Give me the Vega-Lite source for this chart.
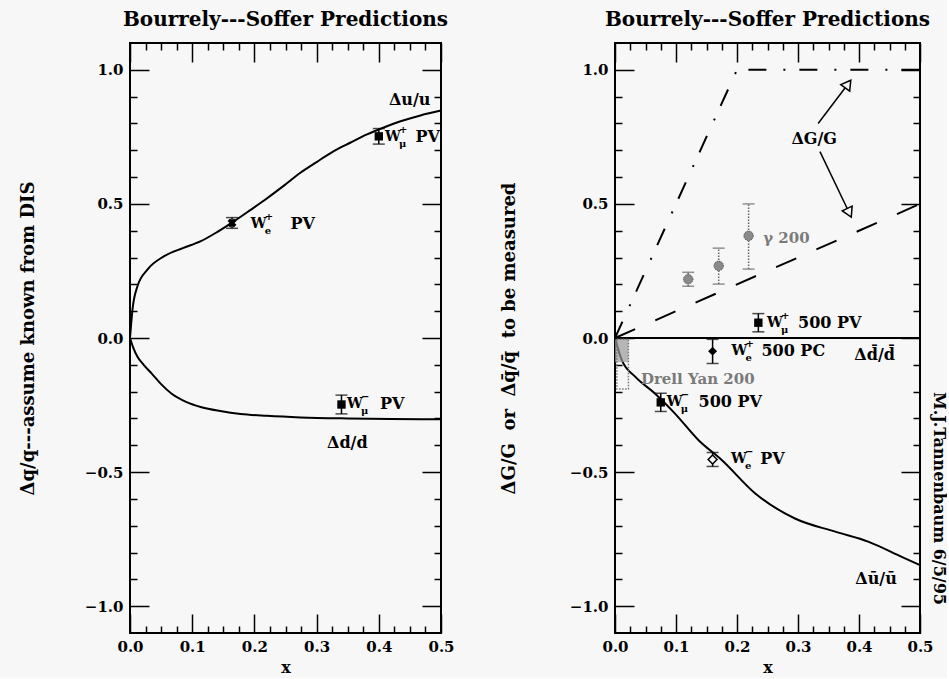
{
  "$schema": "https://vega.github.io/schema/vega-lite/v6.json",
  "background": "#f7f7f7",
  "padding": {"left": 18, "top": 9, "right": 0, "bottom": 2},
  "spacing": 43,
  "config": {
    "view": {"stroke": "black", "strokeWidth": 2},
    "font": "DejaVu Serif",
    "title": {"font": "DejaVu Serif", "fontSize": 20, "fontWeight": "bold", "color": "black", "offset": 12},
    "axis": {
      "labelFont": "DejaVu Serif", "labelFontSize": 15, "labelFontWeight": "bold", "labelColor": "black",
      "titleFont": "DejaVu Serif", "titleFontSize": 18, "titleFontWeight": "bold", "titleColor": "black",
      "domain": false, "grid": false, "tickColor": "black", "tickWidth": 1.5,
      "labelOverlap": false, "labelFlush": false
    },
    "text": {"font": "DejaVu Serif", "fontWeight": "bold", "fontSize": 16, "color": "black"}
  },
  "datasets": {
    "curves": [
      {"panel": "L", "series": "u", "x": 0, "y": 0},
      {"panel": "L", "series": "u", "x": 0.004, "y": 0.106},
      {"panel": "L", "series": "u", "x": 0.012, "y": 0.193},
      {"panel": "L", "series": "u", "x": 0.028, "y": 0.255},
      {"panel": "L", "series": "u", "x": 0.055, "y": 0.305},
      {"panel": "L", "series": "u", "x": 0.085, "y": 0.335},
      {"panel": "L", "series": "u", "x": 0.113, "y": 0.36},
      {"panel": "L", "series": "u", "x": 0.14, "y": 0.395},
      {"panel": "L", "series": "u", "x": 0.167, "y": 0.435},
      {"panel": "L", "series": "u", "x": 0.194, "y": 0.478},
      {"panel": "L", "series": "u", "x": 0.221, "y": 0.522},
      {"panel": "L", "series": "u", "x": 0.248, "y": 0.569},
      {"panel": "L", "series": "u", "x": 0.274, "y": 0.616},
      {"panel": "L", "series": "u", "x": 0.3, "y": 0.656},
      {"panel": "L", "series": "u", "x": 0.327, "y": 0.696},
      {"panel": "L", "series": "u", "x": 0.354, "y": 0.728},
      {"panel": "L", "series": "u", "x": 0.381, "y": 0.759},
      {"panel": "L", "series": "u", "x": 0.408, "y": 0.785},
      {"panel": "L", "series": "u", "x": 0.435, "y": 0.808},
      {"panel": "L", "series": "u", "x": 0.467, "y": 0.83},
      {"panel": "L", "series": "u", "x": 0.5, "y": 0.848},
      {"panel": "L", "series": "d", "x": 0, "y": 0},
      {"panel": "L", "series": "d", "x": 0.005, "y": -0.035},
      {"panel": "L", "series": "d", "x": 0.012, "y": -0.07},
      {"panel": "L", "series": "d", "x": 0.022, "y": -0.1},
      {"panel": "L", "series": "d", "x": 0.035, "y": -0.133},
      {"panel": "L", "series": "d", "x": 0.05, "y": -0.172},
      {"panel": "L", "series": "d", "x": 0.067, "y": -0.208},
      {"panel": "L", "series": "d", "x": 0.09, "y": -0.238},
      {"panel": "L", "series": "d", "x": 0.115, "y": -0.258},
      {"panel": "L", "series": "d", "x": 0.145, "y": -0.272},
      {"panel": "L", "series": "d", "x": 0.178, "y": -0.283},
      {"panel": "L", "series": "d", "x": 0.22, "y": -0.29},
      {"panel": "L", "series": "d", "x": 0.274, "y": -0.296},
      {"panel": "L", "series": "d", "x": 0.35, "y": -0.3},
      {"panel": "L", "series": "d", "x": 0.42, "y": -0.302},
      {"panel": "L", "series": "d", "x": 0.5, "y": -0.303},
      {"panel": "R", "series": "G1", "x": 0, "y": 0},
      {"panel": "R", "series": "G1", "x": 0.2, "y": 1.0},
      {"panel": "R", "series": "G1", "x": 0.5, "y": 1.0},
      {"panel": "R", "series": "G2", "x": 0, "y": 0},
      {"panel": "R", "series": "G2", "x": 0.5, "y": 0.5},
      {"panel": "R", "series": "dbar", "x": 0, "y": 0},
      {"panel": "R", "series": "dbar", "x": 0.5, "y": 0},
      {"panel": "R", "series": "ubar", "x": 0, "y": 0},
      {"panel": "R", "series": "ubar", "x": 0.011, "y": -0.082},
      {"panel": "R", "series": "ubar", "x": 0.033, "y": -0.144},
      {"panel": "R", "series": "ubar", "x": 0.065, "y": -0.206},
      {"panel": "R", "series": "ubar", "x": 0.098, "y": -0.281},
      {"panel": "R", "series": "ubar", "x": 0.137, "y": -0.381},
      {"panel": "R", "series": "ubar", "x": 0.175, "y": -0.455},
      {"panel": "R", "series": "ubar", "x": 0.23, "y": -0.58},
      {"panel": "R", "series": "ubar", "x": 0.295, "y": -0.673},
      {"panel": "R", "series": "ubar", "x": 0.361, "y": -0.722},
      {"panel": "R", "series": "ubar", "x": 0.416, "y": -0.76},
      {"panel": "R", "series": "ubar", "x": 0.47, "y": -0.816},
      {"panel": "R", "series": "ubar", "x": 0.5, "y": -0.847}
    ],
    "points": [
      {"panel": "L", "kind": "x", "x": 0.164, "y": 0.429, "lo": 0.409, "hi": 0.449},
      {"panel": "L", "kind": "sq", "x": 0.4, "y": 0.752, "lo": 0.723, "hi": 0.781},
      {"panel": "L", "kind": "sq", "x": 0.34, "y": -0.248, "lo": -0.283, "hi": -0.213},
      {"panel": "R", "kind": "sq", "x": 0.235, "y": 0.057, "lo": 0.023, "hi": 0.091},
      {"panel": "R", "kind": "dia", "x": 0.16, "y": -0.049, "lo": -0.095, "hi": -0.005},
      {"panel": "R", "kind": "sq", "x": 0.075, "y": -0.24, "lo": -0.274, "hi": -0.206},
      {"panel": "R", "kind": "odia", "x": 0.16, "y": -0.453, "lo": -0.479, "hi": -0.427},
      {"panel": "R", "kind": "g", "x": 0.12, "y": 0.219, "lo": 0.193, "hi": 0.245},
      {"panel": "R", "kind": "g", "x": 0.17, "y": 0.269, "lo": 0.201, "hi": 0.335},
      {"panel": "R", "kind": "g", "x": 0.219, "y": 0.381, "lo": 0.257, "hi": 0.5}
    ],
    "boxes": [
      {"kind": "fill", "x": 0, "x2": 0.022, "y": -0.005, "y2": -0.09},
      {"kind": "outline", "x": 0.003, "x2": 0.022, "y": -0.005, "y2": -0.19}
    ],
    "arrows": [
      {"id": 1, "x": 0.333, "y": 0.8, "x2": 0.382, "y2": 0.947},
      {"id": 2, "x": 0.336, "y": 0.695, "x2": 0.384, "y2": 0.467}
    ],
    "plain": [
      {"panel": "L", "grey": false, "text": "Δu/u", "x": 0.483, "y": 0.889},
      {"panel": "L", "grey": false, "text": "Δd/d", "x": 0.382, "y": -0.39},
      {"panel": "R", "grey": false, "text": "ΔG/G", "x": 0.364, "y": 0.743},
      {"panel": "R", "grey": false, "text": "Δd\u0304/d\u0304", "x": 0.459, "y": -0.063},
      {"panel": "R", "grey": false, "text": "Δū/ū", "x": 0.462, "y": -0.9},
      {"panel": "R", "grey": true, "text": "γ 200", "x": 0.319, "y": 0.373},
      {"panel": "R", "grey": true, "text": "Drell Yan 200", "x": 0.229, "y": -0.153}
    ],
    "wlabels": [
      {"panel": "L", "x": 0.41, "xr": 0.459, "y": 0.749, "sup": "+", "sub": "μ", "rest": "PV"},
      {"panel": "L", "x": 0.194, "xr": 0.258, "y": 0.426, "sup": "+", "sub": "e", "rest": "PV"},
      {"panel": "L", "x": 0.349, "xr": 0.402, "y": -0.245, "sup": "−", "sub": "μ", "rest": "PV"},
      {"panel": "R", "x": 0.249, "xr": 0.3, "y": 0.057, "sup": "+", "sub": "μ", "rest": "500 PV"},
      {"panel": "R", "x": 0.191, "xr": 0.24, "y": -0.049, "sup": "+", "sub": "e", "rest": "500 PC"},
      {"panel": "R", "x": 0.085, "xr": 0.137, "y": -0.24, "sup": "−", "sub": "μ", "rest": "500 PV"},
      {"panel": "R", "x": 0.19, "xr": 0.238, "y": -0.453, "sup": "−", "sub": "e", "rest": "PV"}
    ]
  },
  "hconcat": [
    {
      "title": "Bourrely---Soffer Predictions",
      "width": 311,
      "height": 590,
      "resolve": {"axis": {"x": "independent", "y": "independent"}},
      "layer": [
        {
          "data": {"name": "curves"},
          "transform": [{"filter": "datum.panel == 'L'"}],
          "mark": {"type": "line", "color": "black", "strokeWidth": 2, "interpolate": "monotone"},
          "encoding": {
            "x": {"field": "x", "type": "quantitative", "scale": {"domain": [0, 0.5], "nice": false},
              "axis": {"orient": "bottom", "title": "x", "titleFontSize": 16, "titleY": 26, "titleBaseline": "top",
                "values": [0,0.025,0.05,0.075,0.1,0.125,0.15,0.175,0.2,0.225,0.25,0.275,0.3,0.325,0.35,0.375,0.4,0.425,0.45,0.475,0.5],
                "tickSize": {"condition": {"test": "abs(datum.value*10 - round(datum.value*10)) < 0.001", "value": -19}, "value": -7},
                "labelPadding": 25,
                "labelExpr": "abs(datum.value*10 - round(datum.value*10)) < 0.001 ? format(datum.value, '.1f') : ''"}},
            "y": {"field": "y", "type": "quantitative", "scale": {"domain": [-1.1, 1.1], "nice": false},
              "axis": {"orient": "left", "title": "Δq/q---assume known from DIS", "titleX": -102, "titleBaseline": "middle",
                "values": [-1,-0.9,-0.8,-0.7,-0.6,-0.5,-0.4,-0.3,-0.2,-0.1,0,0.1,0.2,0.3,0.4,0.5,0.6,0.7,0.8,0.9,1],
                "tickSize": {"condition": {"test": "abs(datum.value*2 - round(datum.value*2)) < 0.001", "value": -19}, "value": -7},
                "labelPadding": 26,
                "labelExpr": "abs(datum.value*2 - round(datum.value*2)) < 0.001 ? format(datum.value, '.1f') : ''"}},
            "detail": {"field": "series"}
          }
        },
        {
          "data": {"name": "points"},
          "transform": [{"filter": "datum.panel == 'L'"}],
          "mark": {"type": "rule", "color": "black", "strokeWidth": 1.5},
          "encoding": {
            "x": {"field": "x", "type": "quantitative",
              "axis": {"orient": "top", "title": null, "labels": false,
                "values": [0,0.025,0.05,0.075,0.1,0.125,0.15,0.175,0.2,0.225,0.25,0.275,0.3,0.325,0.35,0.375,0.4,0.425,0.45,0.475,0.5],
                "tickSize": {"condition": {"test": "abs(datum.value*10 - round(datum.value*10)) < 0.001", "value": -19}, "value": -7}}},
            "y": {"field": "lo", "type": "quantitative",
              "axis": {"orient": "right", "title": null, "labels": false,
                "values": [-1,-0.9,-0.8,-0.7,-0.6,-0.5,-0.4,-0.3,-0.2,-0.1,0,0.1,0.2,0.3,0.4,0.5,0.6,0.7,0.8,0.9,1],
                "tickSize": {"condition": {"test": "abs(datum.value*2 - round(datum.value*2)) < 0.001", "value": -19}, "value": -7}}},
            "y2": {"field": "hi"}
          }
        },
        {
          "data": {"name": "points"},
          "transform": [{"filter": "datum.panel == 'L'"}, {"fold": ["lo", "hi"], "as": ["end", "v"]}],
          "mark": {"type": "tick", "orient": "horizontal", "color": "black", "size": 12, "thickness": 1.5},
          "encoding": {
            "x": {"field": "x", "type": "quantitative", "axis": null},
            "y": {"field": "v", "type": "quantitative", "axis": null}
          }
        },
        {
          "data": {"name": "points"},
          "transform": [{"filter": "datum.panel == 'L' && datum.kind == 'sq'"}],
          "mark": {"type": "point", "shape": "square", "filled": true, "color": "black", "size": 70, "opacity": 1},
          "encoding": {
            "x": {"field": "x", "type": "quantitative", "axis": null},
            "y": {"field": "y", "type": "quantitative", "axis": null}
          }
        },
        {
          "data": {"name": "points"},
          "transform": [{"filter": "datum.panel == 'L' && datum.kind == 'x'"}],
          "mark": {"type": "point", "shape": "cross", "angle": 45, "filled": true, "color": "black", "size": 80, "opacity": 1},
          "encoding": {
            "x": {"field": "x", "type": "quantitative", "axis": null},
            "y": {"field": "y", "type": "quantitative", "axis": null}
          }
        },
        {
          "data": {"name": "plain"},
          "transform": [{"filter": "datum.panel == 'L'"}],
          "mark": {"type": "text", "align": "right", "baseline": "middle"},
          "encoding": {
            "x": {"field": "x", "type": "quantitative", "axis": null},
            "y": {"field": "y", "type": "quantitative", "axis": null},
            "text": {"field": "text"}
          }
        },
        {
          "data": {"name": "wlabels"},
          "transform": [{"filter": "datum.panel == 'L'"}],
          "mark": {"type": "text", "align": "left", "baseline": "middle", "text": "W", "fontSize": 14},
          "encoding": {
            "x": {"field": "x", "type": "quantitative", "axis": null},
            "y": {"field": "y", "type": "quantitative", "axis": null}
          }
        },
        {
          "data": {"name": "wlabels"},
          "transform": [{"filter": "datum.panel == 'L'"}],
          "mark": {"type": "text", "align": "left", "baseline": "middle", "fontSize": 10, "dx": 14, "dy": -7},
          "encoding": {
            "x": {"field": "x", "type": "quantitative", "axis": null},
            "y": {"field": "y", "type": "quantitative", "axis": null},
            "text": {"field": "sup"}
          }
        },
        {
          "data": {"name": "wlabels"},
          "transform": [{"filter": "datum.panel == 'L'"}],
          "mark": {"type": "text", "align": "left", "baseline": "middle", "fontSize": 10, "dx": 14, "dy": 7},
          "encoding": {
            "x": {"field": "x", "type": "quantitative", "axis": null},
            "y": {"field": "y", "type": "quantitative", "axis": null},
            "text": {"field": "sub"}
          }
        },
        {
          "data": {"name": "wlabels"},
          "transform": [{"filter": "datum.panel == 'L'"}],
          "mark": {"type": "text", "align": "left", "baseline": "middle"},
          "encoding": {
            "x": {"field": "xr", "type": "quantitative", "axis": null},
            "y": {"field": "y", "type": "quantitative", "axis": null},
            "text": {"field": "rest"}
          }
        }
      ]
    },
    {
      "title": "Bourrely---Soffer Predictions",
      "width": 305,
      "height": 590,
      "resolve": {"axis": {"x": "independent", "y": "independent"}},
      "layer": [
        {
          "data": {"name": "curves"},
          "transform": [{"filter": "datum.series == 'dbar'"}],
          "mark": {"type": "line", "color": "black", "strokeWidth": 2},
          "encoding": {
            "x": {"field": "x", "type": "quantitative", "scale": {"domain": [0, 0.5], "nice": false},
              "axis": {"orient": "bottom", "title": "x", "titleFontSize": 16, "titleY": 26, "titleBaseline": "top",
                "values": [0,0.025,0.05,0.075,0.1,0.125,0.15,0.175,0.2,0.225,0.25,0.275,0.3,0.325,0.35,0.375,0.4,0.425,0.45,0.475,0.5],
                "tickSize": {"condition": {"test": "abs(datum.value*10 - round(datum.value*10)) < 0.001", "value": -19}, "value": -7},
                "labelPadding": 25,
                "labelExpr": "abs(datum.value*10 - round(datum.value*10)) < 0.001 ? format(datum.value, '.1f') : ''"}},
            "y": {"field": "y", "type": "quantitative", "scale": {"domain": [-1.1, 1.1], "nice": false},
              "axis": {"orient": "left", "title": "ΔG/G\u00a0\u00a0or\u00a0\u00a0Δq\u0304/q\u0304\u00a0\u00a0to be measured", "titleX": -106, "titleBaseline": "middle",
                "values": [-1,-0.9,-0.8,-0.7,-0.6,-0.5,-0.4,-0.3,-0.2,-0.1,0,0.1,0.2,0.3,0.4,0.5,0.6,0.7,0.8,0.9,1],
                "tickSize": {"condition": {"test": "abs(datum.value*2 - round(datum.value*2)) < 0.001", "value": -19}, "value": -7},
                "labelPadding": 26,
                "labelExpr": "abs(datum.value*2 - round(datum.value*2)) < 0.001 ? format(datum.value, '.1f') : ''"}}
          }
        },
        {
          "data": {"name": "curves"},
          "transform": [{"filter": "datum.series == 'ubar'"}],
          "mark": {"type": "line", "color": "black", "strokeWidth": 2, "interpolate": "monotone"},
          "encoding": {
            "x": {"field": "x", "type": "quantitative",
              "axis": {"orient": "top", "title": null, "labels": false,
                "values": [0,0.025,0.05,0.075,0.1,0.125,0.15,0.175,0.2,0.225,0.25,0.275,0.3,0.325,0.35,0.375,0.4,0.425,0.45,0.475,0.5],
                "tickSize": {"condition": {"test": "abs(datum.value*10 - round(datum.value*10)) < 0.001", "value": -19}, "value": -7}}},
            "y": {"field": "y", "type": "quantitative",
              "axis": {"orient": "right", "title": "M.J.Tannenbaum 6/5/95", "titleFontSize": 16, "titleAngle": 90, "titleX": 18, "titleY": 455, "titleBaseline": "middle", "titleAlign": "center", "labels": false,
                "values": [-1,-0.9,-0.8,-0.7,-0.6,-0.5,-0.4,-0.3,-0.2,-0.1,0,0.1,0.2,0.3,0.4,0.5,0.6,0.7,0.8,0.9,1],
                "tickSize": {"condition": {"test": "abs(datum.value*2 - round(datum.value*2)) < 0.001", "value": -19}, "value": -7}}}
          }
        },
        {
          "data": {"name": "curves"},
          "transform": [{"filter": "datum.series == 'G1'"}],
          "mark": {"type": "line", "color": "black", "strokeWidth": 2, "strokeDash": [18, 17, 2, 14]},
          "encoding": {
            "x": {"field": "x", "type": "quantitative", "axis": null},
            "y": {"field": "y", "type": "quantitative", "axis": null}
          }
        },
        {
          "data": {"name": "curves"},
          "transform": [{"filter": "datum.series == 'G2'"}],
          "mark": {"type": "line", "color": "black", "strokeWidth": 2, "strokeDash": [22, 22]},
          "encoding": {
            "x": {"field": "x", "type": "quantitative", "axis": null},
            "y": {"field": "y", "type": "quantitative", "axis": null}
          }
        },
        {
          "data": {"name": "boxes"},
          "transform": [{"filter": "datum.kind == 'fill'"}],
          "mark": {"type": "rect", "fill": "#9a9a9a", "opacity": 0.7},
          "encoding": {
            "x": {"field": "x", "type": "quantitative", "axis": null},
            "x2": {"field": "x2"},
            "y": {"field": "y", "type": "quantitative", "axis": null},
            "y2": {"field": "y2"}
          }
        },
        {
          "data": {"name": "boxes"},
          "transform": [{"filter": "datum.kind == 'outline'"}],
          "mark": {"type": "rect", "fill": null, "fillOpacity": 0, "stroke": "#777", "strokeWidth": 1.5, "strokeDash": [1.5, 1.5]},
          "encoding": {
            "x": {"field": "x", "type": "quantitative", "axis": null},
            "x2": {"field": "x2"},
            "y": {"field": "y", "type": "quantitative", "axis": null},
            "y2": {"field": "y2"}
          }
        },
        {
          "data": {"name": "arrows"},
          "mark": {"type": "rule", "color": "black", "strokeWidth": 1.5},
          "encoding": {
            "x": {"field": "x", "type": "quantitative", "axis": null},
            "y": {"field": "y", "type": "quantitative", "axis": null},
            "x2": {"field": "x2"},
            "y2": {"field": "y2"}
          }
        },
        {
          "data": {"name": "arrows"},
          "transform": [{"filter": "datum.id == 1"}],
          "mark": {"type": "point", "shape": "triangle-up", "angle": 36, "filled": true, "fill": "#f7f7f7", "stroke": "black", "strokeWidth": 1.5, "size": 120, "opacity": 1},
          "encoding": {
            "x": {"field": "x2", "type": "quantitative", "axis": null},
            "y": {"field": "y2", "type": "quantitative", "axis": null}
          }
        },
        {
          "data": {"name": "arrows"},
          "transform": [{"filter": "datum.id == 2"}],
          "mark": {"type": "point", "shape": "triangle-up", "angle": 154.5, "filled": true, "fill": "#f7f7f7", "stroke": "black", "strokeWidth": 1.5, "size": 120, "opacity": 1},
          "encoding": {
            "x": {"field": "x2", "type": "quantitative", "axis": null},
            "y": {"field": "y2", "type": "quantitative", "axis": null}
          }
        },
        {
          "data": {"name": "points"},
          "transform": [{"filter": "datum.panel == 'R' && datum.kind != 'g'"}],
          "mark": {"type": "rule", "color": "black", "strokeWidth": 1.5},
          "encoding": {
            "x": {"field": "x", "type": "quantitative", "axis": null},
            "y": {"field": "lo", "type": "quantitative", "axis": null},
            "y2": {"field": "hi"}
          }
        },
        {
          "data": {"name": "points"},
          "transform": [{"filter": "datum.panel == 'R' && datum.kind != 'g'"}, {"fold": ["lo", "hi"], "as": ["end", "v"]}],
          "mark": {"type": "tick", "orient": "horizontal", "color": "black", "size": 12, "thickness": 1.5},
          "encoding": {
            "x": {"field": "x", "type": "quantitative", "axis": null},
            "y": {"field": "v", "type": "quantitative", "axis": null}
          }
        },
        {
          "data": {"name": "points"},
          "transform": [{"filter": "datum.kind == 'g'"}],
          "mark": {"type": "rule", "color": "#666", "strokeWidth": 1.5, "strokeDash": [1.5, 1.5]},
          "encoding": {
            "x": {"field": "x", "type": "quantitative", "axis": null},
            "y": {"field": "lo", "type": "quantitative", "axis": null},
            "y2": {"field": "hi"}
          }
        },
        {
          "data": {"name": "points"},
          "transform": [{"filter": "datum.kind == 'g'"}, {"fold": ["lo", "hi"], "as": ["end", "v"]}],
          "mark": {"type": "tick", "orient": "horizontal", "color": "#666", "size": 12, "thickness": 1.5},
          "encoding": {
            "x": {"field": "x", "type": "quantitative", "axis": null},
            "y": {"field": "v", "type": "quantitative", "axis": null}
          }
        },
        {
          "data": {"name": "points"},
          "transform": [{"filter": "datum.kind == 'g'"}],
          "mark": {"type": "point", "shape": "circle", "filled": true, "fill": "#8a8a8a", "stroke": "#444", "strokeWidth": 1, "strokeDash": [1, 1], "size": 90, "opacity": 1},
          "encoding": {
            "x": {"field": "x", "type": "quantitative", "axis": null},
            "y": {"field": "y", "type": "quantitative", "axis": null}
          }
        },
        {
          "data": {"name": "points"},
          "transform": [{"filter": "datum.panel == 'R' && datum.kind == 'sq'"}],
          "mark": {"type": "point", "shape": "square", "filled": true, "color": "black", "size": 70, "opacity": 1},
          "encoding": {
            "x": {"field": "x", "type": "quantitative", "axis": null},
            "y": {"field": "y", "type": "quantitative", "axis": null}
          }
        },
        {
          "data": {"name": "points"},
          "transform": [{"filter": "datum.kind == 'dia'"}],
          "mark": {"type": "point", "shape": "diamond", "filled": true, "color": "black", "size": 80, "opacity": 1},
          "encoding": {
            "x": {"field": "x", "type": "quantitative", "axis": null},
            "y": {"field": "y", "type": "quantitative", "axis": null}
          }
        },
        {
          "data": {"name": "points"},
          "transform": [{"filter": "datum.kind == 'odia'"}],
          "mark": {"type": "point", "shape": "diamond", "filled": true, "fill": "#f7f7f7", "stroke": "black", "strokeWidth": 1.5, "size": 80, "opacity": 1},
          "encoding": {
            "x": {"field": "x", "type": "quantitative", "axis": null},
            "y": {"field": "y", "type": "quantitative", "axis": null}
          }
        },
        {
          "data": {"name": "plain"},
          "transform": [{"filter": "datum.panel == 'R' && !datum.grey"}],
          "mark": {"type": "text", "align": "right", "baseline": "middle"},
          "encoding": {
            "x": {"field": "x", "type": "quantitative", "axis": null},
            "y": {"field": "y", "type": "quantitative", "axis": null},
            "text": {"field": "text"}
          }
        },
        {
          "data": {"name": "plain"},
          "transform": [{"filter": "datum.panel == 'R' && datum.grey"}],
          "mark": {"type": "text", "align": "right", "baseline": "middle", "color": "#7a7a7a", "fontSize": 15},
          "encoding": {
            "x": {"field": "x", "type": "quantitative", "axis": null},
            "y": {"field": "y", "type": "quantitative", "axis": null},
            "text": {"field": "text"}
          }
        },
        {
          "data": {"name": "wlabels"},
          "transform": [{"filter": "datum.panel == 'R'"}],
          "mark": {"type": "text", "align": "left", "baseline": "middle", "text": "W", "fontSize": 14},
          "encoding": {
            "x": {"field": "x", "type": "quantitative", "axis": null},
            "y": {"field": "y", "type": "quantitative", "axis": null}
          }
        },
        {
          "data": {"name": "wlabels"},
          "transform": [{"filter": "datum.panel == 'R'"}],
          "mark": {"type": "text", "align": "left", "baseline": "middle", "fontSize": 10, "dx": 14, "dy": -7},
          "encoding": {
            "x": {"field": "x", "type": "quantitative", "axis": null},
            "y": {"field": "y", "type": "quantitative", "axis": null},
            "text": {"field": "sup"}
          }
        },
        {
          "data": {"name": "wlabels"},
          "transform": [{"filter": "datum.panel == 'R'"}],
          "mark": {"type": "text", "align": "left", "baseline": "middle", "fontSize": 10, "dx": 14, "dy": 7},
          "encoding": {
            "x": {"field": "x", "type": "quantitative", "axis": null},
            "y": {"field": "y", "type": "quantitative", "axis": null},
            "text": {"field": "sub"}
          }
        },
        {
          "data": {"name": "wlabels"},
          "transform": [{"filter": "datum.panel == 'R'"}],
          "mark": {"type": "text", "align": "left", "baseline": "middle"},
          "encoding": {
            "x": {"field": "xr", "type": "quantitative", "axis": null},
            "y": {"field": "y", "type": "quantitative", "axis": null},
            "text": {"field": "rest"}
          }
        }
      ]
    }
  ]
}
